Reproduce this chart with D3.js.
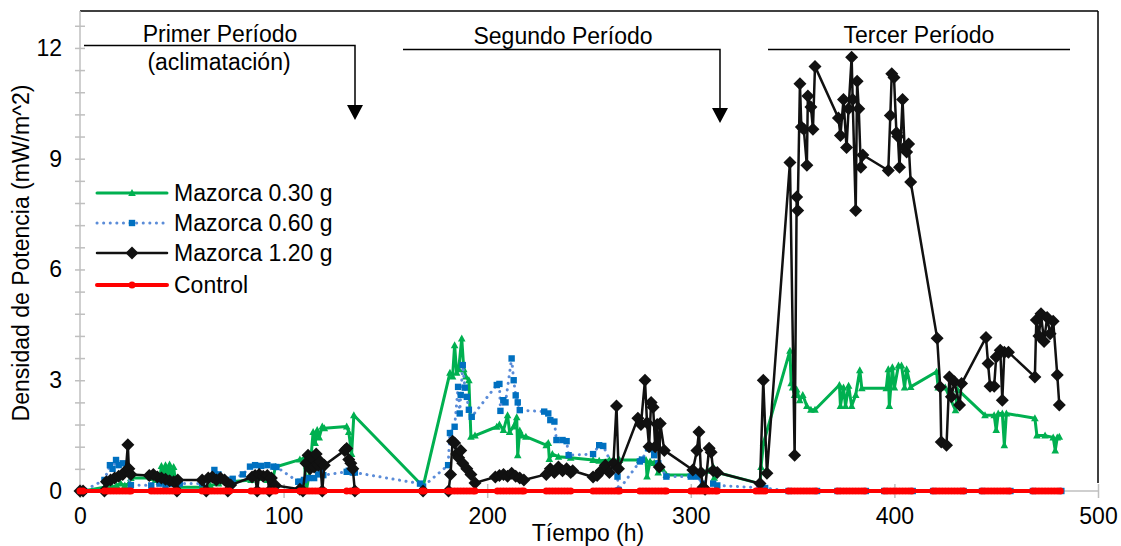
<!DOCTYPE html>
<html><head><meta charset="utf-8">
<script src="https://cdn.jsdelivr.net/npm/d3@7"></script>
<style>body{margin:0;background:#fff}svg{display:block}text{font-family:"Liberation Sans",Arial,sans-serif}</style>
</head><body><svg id="c" width="1121" height="546"></svg>
<script>
const xTicks = [0,100,200,300,400,500];
const yTicks = [0,3,6,9,12];
const seriesNames = ["Mazorca 0.30 g","Mazorca 0.60 g","Mazorca 1.20 g","Control"];
const periodLabels = ["Primer Período","(aclimatación)","Segundo Período","Tercer Período"];

const t030 = [0,1.5,12,14,16,18,20,22,24,25,35,37,39,40,41,42,43,44,45,46,47,48,60,64,68,72,74,84,88,92,95,96,108,110,111.3,113,114.5,115.5,116.5,117.5,119,120,131,132,133.4,134.5,168.5,181.7,183,184,185,186,187.5,188.5,189.5,191,192,194,204.7,206,208,210,211,213,214.5,215,216,217,219,229,230,230.5,232,235,241,252,255,260,265,275,278,278.5,280,282,284,286,288,300,302,305,308,311,311.5,313,334,334.5,335.7,348.7,349.3,350,351,352,353.5,355,357,359,361,373,373.5,375,376,377.5,379,381,383,384,396,397,397.5,399,400,402,403.5,405,406,408,420.7,421.5,425,430,431,444.5,449,450,451,453,454,455,469,470,474,478,479,480,481];
const v030 = [0,0,0.1,0.12,0.1,0.15,0.2,0.15,0.2,0.35,0.35,0.3,0.25,0.68,0.3,0.7,0.35,0.72,0.4,0.65,0.2,0.1,0.1,0.15,0.2,0.25,0.25,0.3,0.35,0.3,0.4,0.65,0.85,0.89,0.05,0.6,1.6,1.3,1.65,1.45,1.75,1.7,1.75,1.6,1.0,2.05,0.12,3.2,3.1,3.95,3.2,3.3,4.13,3.3,3.1,3.0,1.47,1.5,1.74,1.8,1.65,2.05,1.6,1.75,2.0,0.97,1.64,1.5,1.47,1.24,1.3,0.87,1.0,0.93,0.9,0.84,0.82,0.84,0.84,0.84,0.84,0.39,0.8,0.76,0.5,0.6,0.43,0.43,0.45,0.5,0.55,0.66,0.36,0.5,0.2,0.65,1.3,3.8,2.92,2.8,2.6,2.75,2.46,2.6,2.3,2.2,2.2,2.87,2.3,2.8,2.3,2.85,2.3,2.6,3.27,2.78,2.78,3.3,2.3,3.35,2.8,3.4,3.4,2.8,3.3,2.82,3.23,2.8,2.8,2.19,2.75,2.05,2.05,1.65,2.1,2.1,1.24,2.1,1.97,1.5,1.5,1.45,1.1,1.45,1.47];

const t060 = [0,1.5,12,14.7,16,17.7,19,21,23,25,35,39,42,45,49,60,64,66,68,70,72,75,80,83.5,86,89,92,95,96.5,107.2,108,110,112,115,117,118.7,119.5,131,132,134,135,167,168.5,180.8,181.7,184,185.7,186.5,187,188,189,190,191,192.4,204.7,206,206.5,207.9,209,212,213,214,215,216,228,230,231,233,234,237,239,240,252,255,257,264,264.5,275,276,279,281,282,284,288,300,303,306,311,313,336.5,348,362,372,386,395,409,419,434,443,457,468,482];
const v060 = [0,0,0.3,0.7,0.6,0.84,0.7,0.75,0.6,0.16,0.15,0.2,0.15,0.2,0.2,0.2,0.4,0.57,0.45,0.35,0.3,0.33,0.45,0.66,0.7,0.68,0.7,0.66,0.65,0.25,0.25,0.3,0.35,0.35,0.45,0.57,0.43,0.52,0.55,0.5,0.5,0.2,0.12,0.7,1.57,1.74,2.82,2.1,2.6,3.41,2.8,2.55,2.2,2.01,2.87,2.9,2.17,2.46,2.4,3.59,3.0,2.59,2.4,2.19,2.15,2.1,1.92,1.88,1.38,1.38,1.35,0.97,1.0,1.24,1.22,0.39,0.02,0.8,0.85,1.16,1.13,0.97,0.75,0.39,0.39,0.39,0.2,0.2,0.15,0.08,0,0,0,0,0,0,0,0,0,0,0,0];

const t120 = [0,1.5,12,13,15,17,19,21,22.5,23.5,24,25,34,36,38,40,42,44,46,47.6,48,60,62,63,65,67,69,71,72.6,74,84.5,86,87,88,90,92,93,94,96,108,109.5,111,112,113,114,115,116,117,118,119,120,130,131,132,133,134,135,168.5,181,182,183,184,185,186,187,188,190,192,194,204,206,208,210,212,214,216,218,229,231,233,235,237,239,241,242,252,254,256,258,260,262,263.5,264.5,274,275.5,277.5,278.5,279.5,280.5,281.5,282.5,283.5,284.5,285,287,301,303,304,305,306,307,309,310,311,313,334,335.6,337.4,348.7,351,352,352.5,353.6,354.3,355.5,357,357.5,359,360,361,372.5,373.5,375,376.5,377.5,379,379.5,381,381.7,382.5,383.5,384.5,397,398,398.7,399.8,401,401.7,402.5,404,405,406,407,408,421,422.5,423,425.6,427,428,429.5,432,433,445,446,447,449,450,452,453,454,456,469,469.7,471,472,473.5,475,476.5,478,480,481];
const v120 = [0,0,0,0.25,0.3,0.35,0.4,0.45,0.55,1.25,0.6,0.45,0.42,0.45,0.38,0.35,0.32,0.28,0.25,0,0.3,0.3,0,0.35,0.38,0.3,0.35,0.3,0,0.16,0.38,0.42,0,0.45,0.4,0.42,0,0.35,0.15,0.05,0,0.75,0.97,0.6,0.9,0.65,1.0,0.7,0.8,0,0.7,1.1,1.15,0.85,0.75,0.6,0,0,0,0.45,1.35,1.3,1.0,0.9,1.1,0.75,0.6,0.45,0.22,0.38,0.42,0.45,0.4,0.48,0.4,0.35,0.3,0.45,0.6,0.5,0.65,0.55,0.6,0.5,0.55,0.38,0.42,0.55,0.7,0.5,0.75,2.3,0.6,1.97,1.8,3.0,1.85,1.2,2.4,2.27,1.2,1.8,0.65,1.83,1.1,0.57,1.1,1.6,0.5,0.1,0.05,1.16,1.05,0.55,0.5,0.2,3.0,0.48,8.9,0.97,7.96,7.6,11.03,9.86,9.8,8.82,10.7,10.4,9.8,11.5,10.1,9.63,10.6,9.3,10.35,11.75,10.6,7.6,11.1,10.35,8.77,9.1,8.68,10.17,11.3,11.2,9.7,9.6,8.77,10.6,9.3,9.18,9.4,8.37,4.14,2.82,1.33,1.24,3.09,2.55,2.96,2.33,2.91,4.16,3.45,2.84,2.84,3.63,3.81,2.46,3.76,3.76,3.09,4.63,4.2,4.8,4.05,4.7,4.26,4.6,3.14,2.33];

const tCtrl = [0,1.5,12,13.5,15,16.5,18,19.5,21,22.5,24,25,35,36.5,38,39.5,41,42.5,44,45.5,47,48,60,61.5,63,64.5,66,67.5,69,70.5,72,73.5,84,85.5,87,88.5,90,91.5,93,94.5,96,108,109.5,111,112.5,114,115.5,117,118.5,120,131,133,135,136,168,169,181,182.5,184,185.5,187,188.5,190,191.5,193,194,205,206.5,208,209.5,211,212.5,214,215.5,217,218,229,230.5,232,233.5,235,236.5,238,239.5,241,252,253.5,255,256.5,258,259.5,261,262.5,264,265,275,276.5,278,279.5,281,282.5,284,285.5,287,288,300,301.5,303,304.5,306,307.5,309,310.5,312,313,332,333.5,335,336.5,348,349.5,351,352.5,354,355.5,357,358.5,360,361.5,372,373.5,375,376.5,378,379.5,381,382.5,384,385.5,395,396.5,398,399.5,401,402.5,404,405.5,407,408.5,419,420.5,422,423.5,425,426.5,428,429.5,431,432.5,434,443,444.5,446,447.5,449,450.5,452,453.5,455,456.5,468,469.5,471,472.5,474,475.5,477,478.5,480,481.5];
const vCtrl = [0,0,0,0,0,0,0,0,0,0,0,0,0,0,0,0,0,0,0,0,0,0,0,0,0,0,0,0,0,0,0,0,0,0,0,0,0,0,0,0,0,0,0,0,0,0,0,0,0,0,0,0,0,0,0,0,0,0,0,0,0,0,0,0,0,0,0,0,0,0,0,0,0,0,0,0,0,0,0,0,0,0,0,0,0,0,0,0,0,0,0,0,0,0,0,0,0,0,0,0,0,0,0,0,0,0,0,0,0,0,0,0,0,0,0,0,0,0,0,0,0,0,0,0,0,0,0,0,0,0,0,0,0,0,0,0,0,0,0,0,0,0,0,0,0,0,0,0,0,0,0,0,0,0,0,0,0,0,0,0,0,0,0,0,0,0,0,0,0,0,0,0,0,0,0,0,0,0,0,0,0,0,0];

const svg = d3.select("#c");
const x = d3.scaleLinear().domain([0,500]).range([80,1098]);
const y = d3.scaleLinear().domain([0,13]).range([491,11]);
const FS = 23;

// frame (top & right black)
svg.append("line").attr("x1",80).attr("x2",1098).attr("y1",11).attr("y2",11).attr("stroke","#000").attr("stroke-width",1.5);
svg.append("line").attr("x1",1098).attr("x2",1098).attr("y1",11).attr("y2",483).attr("stroke","#000").attr("stroke-width",1.5);

// axes
const gray = "#bfbfbf";
const yMinor = d3.range(0, 13.01, 0.6);
const yAxis = d3.axisLeft(y).tickValues(yMinor).tickSize(6).tickFormat("");
const gy = svg.append("g").attr("transform","translate(80,0)").call(yAxis);
gy.selectAll("line").attr("stroke",gray).attr("stroke-width",1.5).attr("x2",-5).attr("x1",5);
gy.select(".domain").attr("stroke",gray).attr("stroke-width",1.5).attr("d","M0,11V491");
const yLab = d3.axisLeft(y).tickValues(yTicks).tickSize(0).tickPadding(18).tickFormat(d3.format("d"));
const gyl = svg.append("g").attr("transform","translate(80,0)").call(yLab);
gyl.select(".domain").remove();
gyl.selectAll("text").attr("font-size",FS).attr("fill","#000").attr("font-family","Liberation Sans, Arial");

const xAxis = d3.axisBottom(x).tickValues(xTicks).tickSize(0).tickPadding(17).tickFormat(d3.format("d"));
const gx = svg.append("g").attr("transform","translate(0,491)").call(xAxis);
gx.select(".domain").attr("stroke",gray).attr("stroke-width",1.5).attr("d","M80,0H1098");
gx.selectAll("text").attr("font-size",FS).attr("fill","#000").attr("font-family","Liberation Sans, Arial");
gx.selectAll(".tick").append("line").attr("y1",-7).attr("y2",7).attr("stroke",gray).attr("stroke-width",1.5);

// axis titles
svg.append("text").attr("x",588).attr("y",541).attr("text-anchor","middle").attr("font-size",FS).text("Tíempo (h)");
svg.append("text").attr("transform","translate(29,253) rotate(-90)").attr("text-anchor","middle").attr("font-size",FS).text("Densidad de Potencia (mW/m^2)");

// series
function makeData(ts, vs){ return ts.map((t,i)=>({t, v:vs[i]})); }
const line = d3.line().x(d=>x(d.t)).y(d=>y(d.v));

const specs = [
  {name:seriesNames[0], data:makeData(t030,v030), color:"#00b050", width:3, dash:null, marker:"tri", mcolor:"#00b050"},
  {name:seriesNames[1], data:makeData(t060,v060), color:"#5b8cd8", width:3, dash:"0.1 6.5", marker:"sq", mcolor:"#0070c0"},
  {name:seriesNames[2], data:makeData(t120,v120), color:"#111", width:2.5, dash:null, marker:"dia", mcolor:"#111"},
  {name:seriesNames[3], data:makeData(tCtrl,vCtrl), color:"#ff0000", width:4, dash:null, marker:"circ", mcolor:"#ff0000"}
];
function markerPath(kind){
  if(kind==="dia") return "M0,-6.5L6.5,0L0,6.5L-6.5,0Z";
  if(kind==="tri") return "M0,-4L3.8,3L-3.8,3Z";
  if(kind==="sq") return "M-3.2,-3.2H3.2V3.2H-3.2Z";
  return "M-3.5,0A3.5,3.5 0 1,0 3.5,0A3.5,3.5 0 1,0 -3.5,0Z";
}
specs.forEach(s=>{
  const g = svg.append("g");
  g.append("path").attr("d",line(s.data)).attr("fill","none").attr("stroke",s.color)
   .attr("stroke-width",s.width).attr("stroke-linejoin","round").attr("stroke-linecap","round")
   .attr("stroke-dasharray",s.dash);
  g.selectAll("path.m").data(s.data).enter().append("path").attr("class","m")
   .attr("d",markerPath(s.marker)).attr("transform",d=>`translate(${x(d.t)},${y(d.v)})`).attr("fill",s.mcolor);
});

// legend
const legY = [193,223,253,285];
specs.forEach((s,i)=>{
  const g = svg.append("g").attr("transform",`translate(0,${legY[i]})`);
  g.append("line").attr("x1",97).attr("x2",167).attr("y1",0).attr("y2",0).attr("stroke",s.color)
   .attr("stroke-width",s.width).attr("stroke-linecap","round").attr("stroke-dasharray",s.dash);
  g.append("path").attr("d",markerPath(s.marker)).attr("transform","translate(132,0)").attr("fill",s.mcolor);
  g.append("text").attr("x",174).attr("y",8).attr("font-size",FS).text(s.name);
});

// period annotations
const ann = svg.append("g");
ann.append("text").attr("x",220).attr("y",42).attr("text-anchor","middle").attr("font-size",FS).text(periodLabels[0]);
ann.append("text").attr("x",219).attr("y",70).attr("text-anchor","middle").attr("font-size",FS).text(periodLabels[1]);
ann.append("text").attr("x",563).attr("y",44).attr("text-anchor","middle").attr("font-size",FS).text(periodLabels[2]);
ann.append("text").attr("x",919).attr("y",43).attr("text-anchor","middle").attr("font-size",FS).text(periodLabels[3]);
function bracket(x1,x2,yy,arrowTip){
  let d = `M${x1},${yy}H${x2}`;
  if(arrowTip) d += `V${arrowTip-14}`;
  ann.append("path").attr("d",d).attr("fill","none").attr("stroke","#000").attr("stroke-width",1.5);
  if(arrowTip) ann.append("path").attr("d",`M${x2-8},${arrowTip-15}L${x2+8},${arrowTip-15}L${x2},${arrowTip}Z`).attr("fill","#000");
}
bracket(84,355,45.5,120);
bracket(403,720,49.5,123);
bracket(768,1070,49.5,null);
</script></body></html>
